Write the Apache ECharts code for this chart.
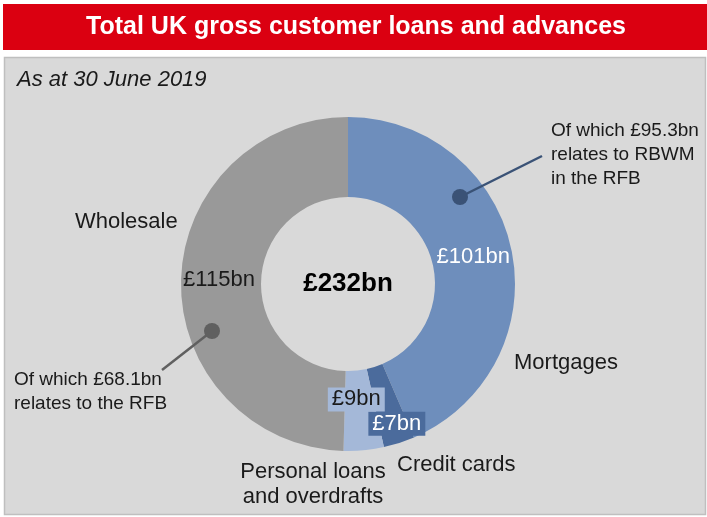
<!DOCTYPE html>
<html>
<head>
<meta charset="utf-8">
<script src="https://cdn.jsdelivr.net/npm/echarts@6/dist/echarts.min.js"></script>
<style>
html,body{margin:0;padding:0;background:#fff;}
#chart{width:707px;height:517px;}
</style>
</head>
<body>
<div id="chart"></div>
<script>
const chartTitle = 'Total UK gross customer loans and advances';
const subtitle = 'As at 30 June 2019';
const categories = ['Mortgages', 'Credit cards', 'Personal loans\nand overdrafts', 'Wholesale'];
const values = [101, 7, 9, 115];
const notes = ['Of which £95.3bn\nrelates to RBWM\nin the RFB', 'Of which £68.1bn\nrelates to the RFB'];

const FONT = "'Liberation Sans', Arial, sans-serif";
const colors = ['#6e8ebc', '#4b6b9c', '#a4b8d8', '#999999'];
const labelColors = ['#ffffff', '#ffffff', '#1a1a1a', '#1a1a1a'];
const labelBg = ['transparent', '#4b6b9c', '#a4b8d8', 'transparent'];
const labelOffsets = [[-2, -1], [9, 16], [-4, -14], [1, -2]];
const catPos = [
  {x: 514, y: 363, align: 'left'},
  {x: 397, y: 465, align: 'left'},
  {x: 313, y: 484, align: 'center'},
  {x: 75, y: 222, align: 'left'}
];
const total = values.reduce((a, b) => a + b, 0);
const cx = 348, cy = 284;

const chart = echarts.init(document.getElementById('chart'), null, {renderer: 'canvas'});

const graphics = [
  {type: 'rect', z: -10, shape: {x: 3, y: 4, width: 704, height: 46}, style: {fill: '#db0011'}},
  {type: 'rect', z: -10, shape: {x: 4.5, y: 57.5, width: 701, height: 457}, style: {fill: '#d9d9d9', stroke: '#bfbfbf', lineWidth: 1.5}},
  {type: 'text', z: 10, x: 356, y: 27, style: {text: chartTitle, fill: '#ffffff', font: 'bold 25px ' + FONT, align: 'center', verticalAlign: 'middle'}},
  {type: 'text', z: 10, x: 17, y: 80, style: {text: subtitle, fill: '#1a1a1a', font: 'italic 22px ' + FONT, align: 'left', verticalAlign: 'middle'}},
  {type: 'text', z: 10, x: cx, y: cy, style: {text: '£' + total + 'bn', fill: '#000000', font: 'bold 26px ' + FONT, align: 'center', verticalAlign: 'middle'}},
  // annotation lines and dots
  {type: 'line', z: 20, shape: {x1: 460, y1: 197, x2: 542, y2: 156}, style: {stroke: '#3a5276', lineWidth: 2.5}},
  {type: 'circle', z: 21, shape: {cx: 460, cy: 197, r: 8}, style: {fill: '#3a5276'}},
  {type: 'text', z: 20, x: 551, y: 155, style: {text: notes[0], fill: '#1a1a1a', font: '19px ' + FONT, lineHeight: 24, align: 'left', verticalAlign: 'middle'}},
  {type: 'line', z: 20, shape: {x1: 212, y1: 331, x2: 162, y2: 370}, style: {stroke: '#606060', lineWidth: 2.5}},
  {type: 'circle', z: 21, shape: {cx: 212, cy: 331, r: 8}, style: {fill: '#606060'}},
  {type: 'text', z: 20, x: 14, y: 392, style: {text: notes[1], fill: '#1a1a1a', font: '19px ' + FONT, lineHeight: 24, align: 'left', verticalAlign: 'middle'}}
];
categories.forEach((c, i) => {
  graphics.push({type: 'text', z: 20, x: catPos[i].x, y: catPos[i].y,
    style: {text: c, fill: '#1a1a1a', font: '22px ' + FONT, lineHeight: 25, align: catPos[i].align, verticalAlign: 'middle'}});
});

chart.setOption({
  animation: false,
  backgroundColor: '#ffffff',
  graphic: graphics,
  series: [{
    type: 'pie',
    z: 5,
    center: [cx, cy],
    radius: [87, 167],
    startAngle: 90,
    clockwise: true,
    silent: true,
    itemStyle: {borderWidth: 0},
    labelLine: {show: false},
    data: categories.map((c, i) => ({
      name: c,
      value: values[i],
      itemStyle: {color: colors[i]},
      label: {
        show: true,
        position: 'inside',
        formatter: '£{c}bn',
        color: labelColors[i],
        backgroundColor: labelBg[i],
        padding: [1, 4],
        offset: labelOffsets[i],
        fontFamily: FONT,
        fontSize: 22,
        textBorderWidth: 0
      }
    }))
  }]
});
</script>
</body>
</html>
